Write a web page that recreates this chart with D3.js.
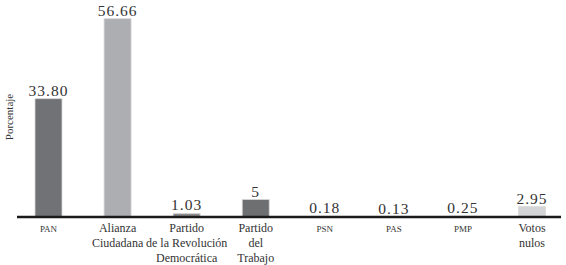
<!DOCTYPE html>
<html>
<head>
<meta charset="utf-8">
<script src="https://cdn.jsdelivr.net/npm/d3@7"></script>
<style>
  body { margin: 0; background: #fff; }
</style>
</head>
<body>
<svg width="566" height="265"></svg>
<script>
// data
var parties = ['PAN', 'Alianza Ciudadana', 'PRD', 'PT', 'PSN', 'PAS', 'PMP', 'Votos nulos'];
var values = [33.80, 56.66, 1.03, 5, 0.18, 0.13, 0.25, 2.95];
var valueLabels = ['33.80', '56.66', '1.03', '5', '0.18', '0.13', '0.25', '2.95'];
var nameLines = [['PAN'], ['Alianza', 'Ciudadana'], ['Partido', 'de la Revolución', 'Democrática'],
  ['Partido', 'del', 'Trabajo'], ['PSN'], ['PAS'], ['PMP'], ['Votos', 'nulos']];
var smallCaps = [true, false, false, false, true, true, true, false];
var colors = ['#717275', '#adaeb1', '#8c8d8f', '#6e6f71', '#8c8d8f', '#8c8d8f', '#8c8d8f', '#d4d5d7'];

var serif = '"Liberation Serif", "DejaVu Serif", serif';
var svg = d3.select('svg').attr('font-family', serif);
var baseY = 217;
var barW = 27;

var x = d3.scalePoint().domain(parties).range([48.5, 532]);
var y = d3.scaleLinear().domain([0, 60]).range([baseY, baseY - 60 * 3.5]);

var rows = parties.map(function (p, i) {
  return { p: p, v: values[i], lab: valueLabels[i], lines: nameLines[i], sc: smallCaps[i], c: colors[i] };
});

// bars
svg.selectAll('rect.bar').data(rows).enter().append('rect')
  .attr('class', 'bar')
  .attr('x', function (d) { return x(d.p) - barW / 2; })
  .attr('y', function (d) { return y(d.v); })
  .attr('width', barW)
  .attr('height', function (d) { return baseY - y(d.v); })
  .attr('fill', function (d) { return d.c; })
  .attr('stroke', '#d8d8d8')
  .attr('stroke-width', 0.8);

// value labels
svg.selectAll('text.val').data(rows).enter().append('text')
  .attr('class', 'val')
  .attr('x', function (d) { return x(d.p); })
  .attr('y', function (d) { return y(d.v) - 3; })
  .attr('text-anchor', 'middle')
  .attr('font-family', serif)
  .attr('font-size', 15.5)
  .attr('letter-spacing', 1)
  .attr('fill', '#333')
  .text(function (d) { return d.lab; });

// baseline
svg.append('line')
  .attr('x1', 17).attr('x2', 561)
  .attr('y1', baseY).attr('y2', baseY)
  .attr('stroke', '#1a1a1a').attr('stroke-width', 2.6);

// category labels
var cats = svg.selectAll('text.cat').data(rows).enter().append('text')
  .attr('class', 'cat')
  .attr('text-anchor', 'middle')
  .attr('font-family', serif)
  .attr('fill', '#333')
  .attr('font-size', function (d) { return d.sc ? 9 : 12; });
cats.selectAll('tspan').data(function (d) { return d.lines.map(function (l) { return { l: l, x: x(d.p) }; }); })
  .enter().append('tspan')
  .attr('x', function (d) { return d.x; })
  .attr('y', function (d, i) { return 232 + i * 15; })
  .text(function (d) { return d.l; });

// y axis title
svg.append('text')
  .attr('transform', 'translate(13,117) rotate(-90)')
  .attr('text-anchor', 'middle')
  .attr('font-family', serif)
  .attr('font-size', 11)
  .attr('fill', '#333')
  .text('Porcentaje');
</script>
</body>
</html>
